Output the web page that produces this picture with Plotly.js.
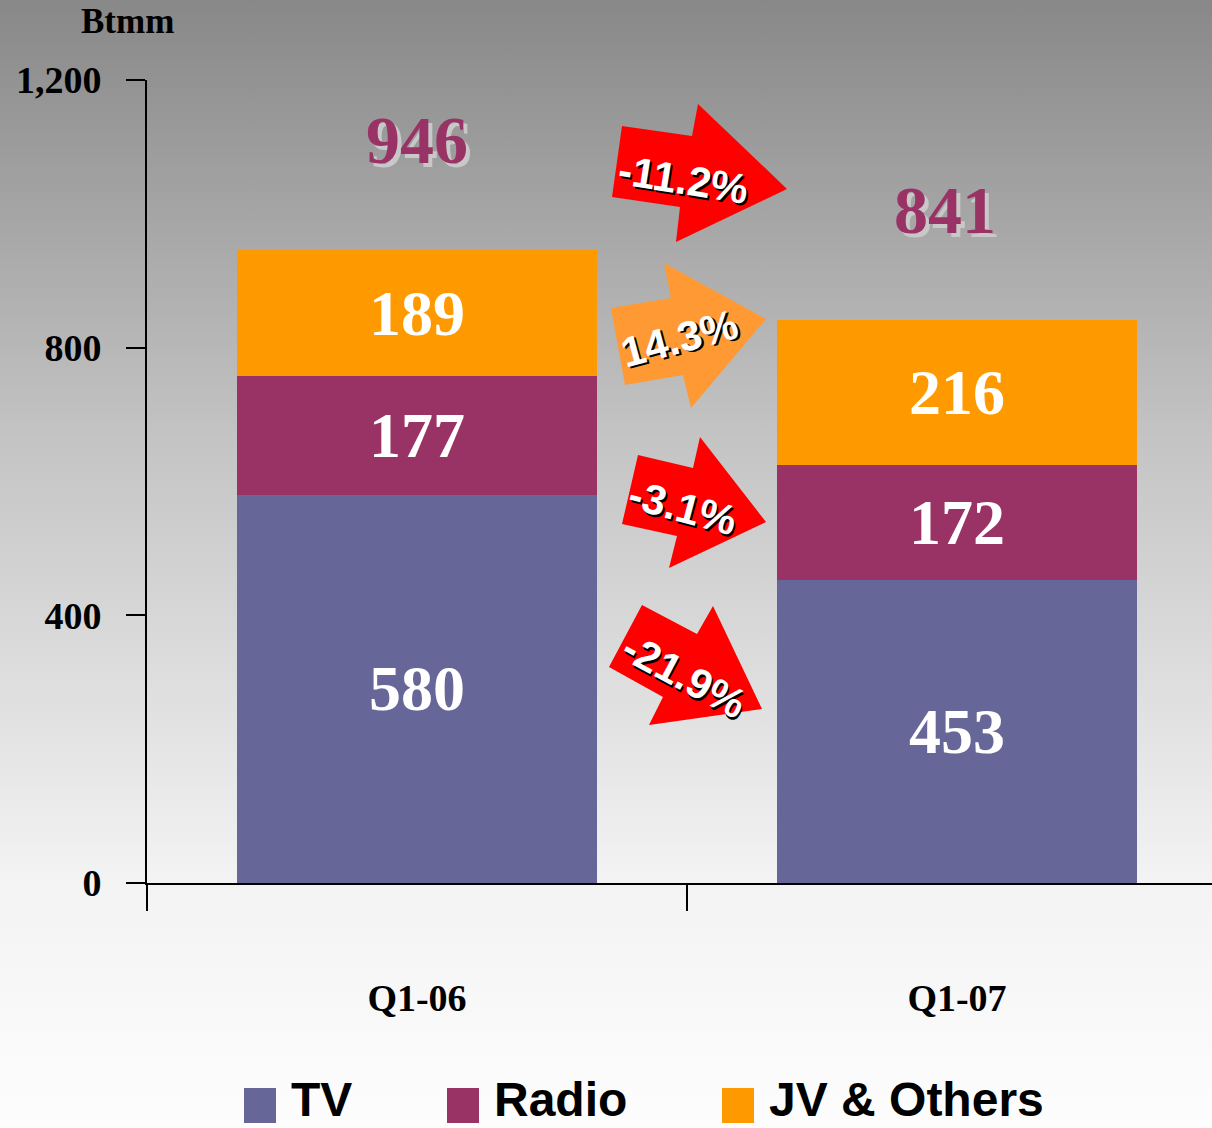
<!DOCTYPE html>
<html>
<head>
<meta charset="utf-8">
<script src="https://cdn.plot.ly/plotly-3.0.1.min.js"></script>
<style>
  html, body { margin: 0; padding: 0; }
  #chart { width: 1212px; height: 1128px; background: linear-gradient(to bottom, #888888 0%, #c4c4c4 39%, #f3f3f3 78%, #fdfdfd 100%); }
</style>
</head>
<body>
<div id="chart"></div>
<script>
// ---- data ----
const categories = ['Q1-06', 'Q1-07'];
const tvValues = [580, 453];
const radioValues = [177, 172];
const jvValues = [189, 216];
const seriesNames = ['TV', 'Radio', 'JV & Others'];
const seriesColors = ['#666699', '#993366', '#FF9900'];
const changeLabels = ['-11.2%', '14.3%', '-3.1%', '-21.9%'];
const yTickValues = [0, 400, 800, 1200];
const unitLabel = 'Btmm';

const totals = categories.map((c, i) => tvValues[i] + radioValues[i] + jvValues[i]);

// ---- layout helpers (pixel geometry of the plot area) ----
const W = 1212, H = 1128;
const M = { l: 147, r: 0, t: 80, b: 245 };
const PW = W - M.l - M.r, PH = H - M.t - M.b;
const px = x => (x - M.l) / PW;
const py = y => (H - M.b - y) / PH;

const serif = 'Liberation Serif, Times New Roman, serif';
const sans = 'Liberation Sans, Arial, sans-serif';

function mkBar(vals, idx) {
  return {
    type: 'bar', x: categories, y: vals, name: seriesNames[idx],
    marker: { color: seriesColors[idx], line: { width: 0 } },
    width: 0.667,
    text: vals.map(String), textposition: 'inside', insidetextanchor: 'middle',
    constraintext: 'none',
    textfont: { family: serif, size: 64, color: '#ffffff', weight: 'bold' },
    hoverinfo: 'x+y+name'
  };
}
const traces = [mkBar(tvValues, 0), mkBar(radioValues, 1), mkBar(jvValues, 2)];

// arrow polygons (decorations), in pixels
const arrows = [
  { color: '#FF0000', pts: [[622,126],[692,136],[698,104],[787,189],[676,242],[680,207],[612,197]], text: [683,179], ang: 9 },
  { color: '#FF9933', pts: [[611,308],[671,298],[664,263],[766,319],[691,408],[683,375],[625,385]], text: [679,339], ang: -15 },
  { color: '#FF0000', pts: [[638,455],[693,468],[700,437],[766,522],[669,568],[677,536],[622,524]], text: [683,507], ang: 15 },
  { color: '#FF0000', pts: [[642,605],[697,634],[713,606],[762,709],[649,725],[663,697],[609,667]], text: [684,675], ang: 28 }
];

const shapes = arrows.map(a => ({
  type: 'path', xref: 'paper', yref: 'paper', layer: 'above',
  path: 'M' + a.pts.map(p => px(p[0]).toFixed(5) + ',' + py(p[1]).toFixed(5)).join('L') + 'Z',
  fillcolor: a.color, line: { width: 0 }
}));

const annotations = [];
arrows.forEach((a, i) => {
  annotations.push({
    xref: 'paper', yref: 'paper', x: px(a.text[0]), y: py(a.text[1]),
    text: changeLabels[i], showarrow: false, textangle: a.ang,
    xanchor: 'center', yanchor: 'middle',
    font: { family: sans, size: 42, color: '#ffffff', weight: 'bold', shadow: '2px 2px 0px #000000' }
  });
});

// totals above bars
const totalShift = [0, -12];
totals.forEach((t, i) => {
  annotations.push({
    xref: 'x', yref: 'y', x: categories[i], y: t, yshift: 110, xshift: totalShift[i],
    text: String(t), showarrow: false, xanchor: 'center', yanchor: 'middle',
    font: { family: serif, size: 68, color: '#993366', weight: 'bold', shadow: '4px 4px 0px #c8c8c8' }
  });
});

// unit label
annotations.push({
  xref: 'paper', yref: 'paper', x: px(127), y: py(22), text: unitLabel, showarrow: false,
  xanchor: 'center', yanchor: 'middle',
  font: { family: serif, size: 35, color: '#000000', weight: 'bold' }
});

// manual legend
const legendX = [244, 447, 722];
seriesNames.forEach((n, i) => {
  shapes.push({
    type: 'rect', xref: 'paper', yref: 'paper',
    x0: px(legendX[i]), x1: px(legendX[i] + 32), y0: py(1123), y1: py(1088),
    fillcolor: seriesColors[i], line: { width: 0 }
  });
  annotations.push({
    xref: 'paper', yref: 'paper', x: px(legendX[i] + 45), y: py(H), text: n,
    showarrow: false, xanchor: 'left', yanchor: 'bottom',
    font: { family: sans, size: 48, color: '#000000', weight: 'bold' }
  });
});

const layout = {
  width: W, height: H,
  margin: M,
  paper_bgcolor: 'rgba(0,0,0,0)', plot_bgcolor: 'rgba(0,0,0,0)',
  barmode: 'stack', bargap: 0.333,
  showlegend: false,
  xaxis: {
    type: 'category', range: [-0.5, -0.5 + PW / 540],
    tickson: 'boundaries', ticks: 'outside', ticklen: 26, tickwidth: 2, tickcolor: '#000',
    showline: true, linecolor: '#000', linewidth: 2, showgrid: false, zeroline: false,
    ticklabelstandoff: 80,
    tickfont: { family: serif, size: 38, color: '#000', weight: 'bold' }
  },
  yaxis: {
    range: [0, 1200], tickvals: yTickValues, tickformat: ',d',
    ticks: 'outside', ticklen: 19, tickwidth: 2, tickcolor: '#000',
    showline: true, linecolor: '#000', linewidth: 2, showgrid: false, zeroline: false,
    ticklabelstandoff: 17,
    tickfont: { family: serif, size: 38, color: '#000', weight: 'bold' }
  },
  shapes: shapes,
  annotations: annotations
};

Plotly.newPlot('chart', traces, layout, { displayModeBar: false, staticPlot: true });
</script>
</body>
</html>
